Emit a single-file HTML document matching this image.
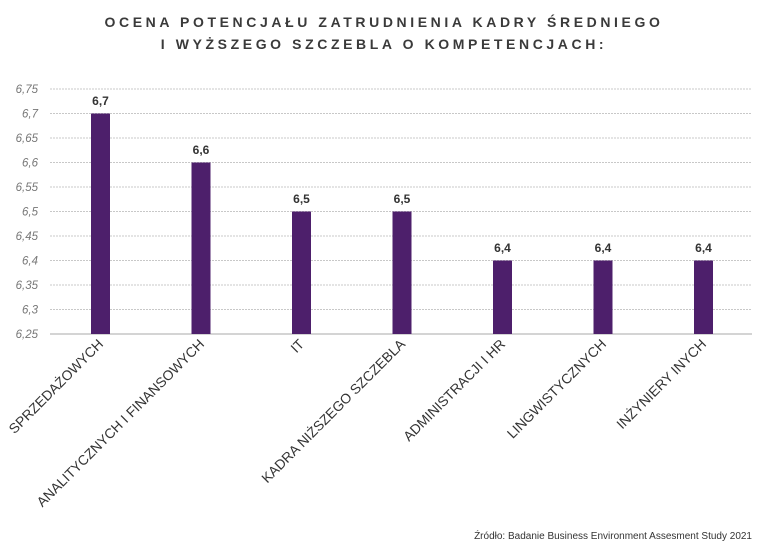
<!DOCTYPE html>
<html><head><meta charset="utf-8"><style>
body{margin:0;background:#fff;}
svg{display:block;font-family:"Liberation Sans",sans-serif;}
</style></head><body>
<svg width="769" height="557" viewBox="0 0 769 557">
<text x="384" y="27" text-anchor="middle" font-size="14" font-weight="bold" fill="#3a3a3a" letter-spacing="3.6">OCENA POTENCJAŁU ZATRUDNIENIA KADRY ŚREDNIEGO</text>
<text x="384" y="49" text-anchor="middle" font-size="14" font-weight="bold" fill="#3a3a3a" letter-spacing="3.6">I WYŻSZEGO SZCZEBLA O KOMPETENCJACH:</text>
<g stroke="#c8c8c8" stroke-width="1" stroke-dasharray="2,1">
<line x1="50" x2="752" y1="89" y2="89"/><line x1="50" x2="752" y1="113.5" y2="113.5"/>
<line x1="50" x2="752" y1="138" y2="138"/><line x1="50" x2="752" y1="162.5" y2="162.5"/>
<line x1="50" x2="752" y1="187" y2="187"/><line x1="50" x2="752" y1="211.5" y2="211.5"/>
<line x1="50" x2="752" y1="236" y2="236"/><line x1="50" x2="752" y1="260.5" y2="260.5"/>
<line x1="50" x2="752" y1="285" y2="285"/><line x1="50" x2="752" y1="309.5" y2="309.5"/>
</g>
<line x1="50" x2="752" y1="334" y2="334" stroke="#aaa"/>
<g font-size="11.5" fill="#777" text-anchor="end" font-style="italic">
<text x="38" y="93">6,75</text><text x="38" y="117.5">6,7</text><text x="38" y="142">6,65</text>
<text x="38" y="166.5">6,6</text><text x="38" y="191">6,55</text><text x="38" y="215.5">6,5</text>
<text x="38" y="240">6,45</text><text x="38" y="264.5">6,4</text><text x="38" y="289">6,35</text>
<text x="38" y="313.5">6,3</text><text x="38" y="338">6,25</text>
</g>
<g fill="#4d1f6b">
<rect x="91" y="113.5" width="19" height="220.5"/>
<rect x="191.5" y="162.5" width="19" height="171.5"/>
<rect x="292" y="211.5" width="19" height="122.5"/>
<rect x="392.5" y="211.5" width="19" height="122.5"/>
<rect x="493" y="260.5" width="19" height="73.5"/>
<rect x="593.5" y="260.5" width="19" height="73.5"/>
<rect x="694" y="260.5" width="19" height="73.5"/>
</g>
<g font-size="12" font-weight="bold" fill="#333" text-anchor="middle">
<text x="100.5" y="105">6,7</text><text x="201" y="154">6,6</text><text x="301.5" y="203">6,5</text>
<text x="402" y="203">6,5</text><text x="502.5" y="252">6,4</text><text x="603" y="252">6,4</text><text x="703.5" y="252">6,4</text>
</g>
<g font-size="13.8" fill="#333" text-anchor="end">
<text transform="translate(104,345) rotate(-45)">SPRZEDAŻOWYCH</text>
<text transform="translate(205,345) rotate(-45)">ANALITYCZNYCH I FINANSOWYCH</text>
<text transform="translate(305,345) rotate(-45)">IT</text>
<text transform="translate(406,345) rotate(-45)">KADRA NIŻSZEGO SZCZEBLA</text>
<text transform="translate(506,345) rotate(-45)">ADMINISTRACJI I HR</text>
<text transform="translate(607,345) rotate(-45)">LINGWISTYCZNYCH</text>
<text transform="translate(707,345) rotate(-45)">INŻYNIERY INYCH</text>
</g>
<text x="752" y="539" font-size="10" fill="#333" text-anchor="end">Źródło: Badanie Business Environment Assesment Study 2021</text>
</svg>
</body></html>
